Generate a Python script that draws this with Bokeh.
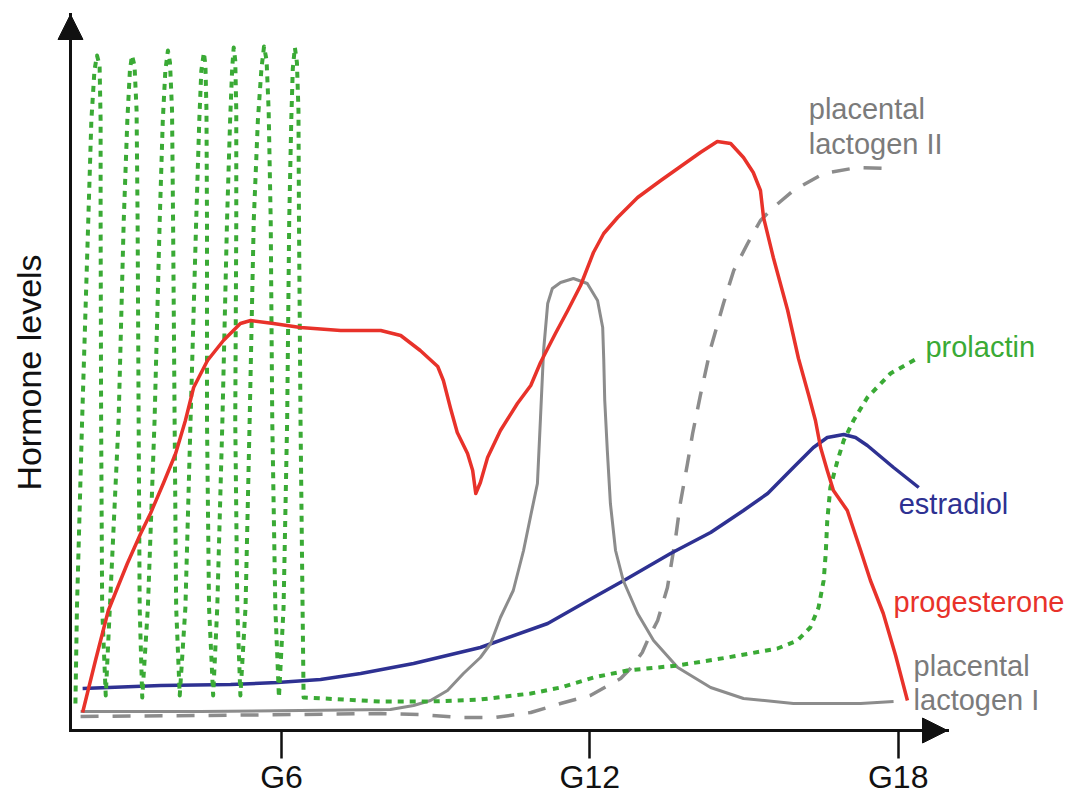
from bokeh.plotting import figure
from bokeh.models import Range1d, FixedTicker, Arrow, NormalHead, Label
from bokeh.embed import file_html
from bokeh.resources import INLINE

# ---------------- data (gestation day, arbitrary hormone level) ----------------
tick_days = [6, 12, 18]
tick_labels = {6: "G6", 12: "G12", 18: "G18"}

progesterone_day = [2.13, 2.38, 2.63, 2.81, 3.00, 3.26, 3.45, 3.70, 3.94, 4.13,
                    4.29, 4.56, 4.87, 5.20, 5.40, 5.84, 6.37, 7.15, 7.93, 8.32,
                    8.70, 9.04, 9.15, 9.29, 9.42, 9.62, 9.72, 9.78, 9.87, 10.01,
                    10.26, 10.59, 10.85, 11.04, 11.33, 11.57, 11.82, 12.07, 12.27, 12.54,
                    12.93, 13.38, 13.71, 14.15, 14.48, 14.74, 14.99, 15.18, 15.32, 15.38,
                    15.57, 15.85, 16.06, 16.26, 16.39, 16.49, 16.62, 16.74, 17.01, 17.27,
                    17.46, 17.71, 17.95, 18.18]
progesterone_level = [3.6, 14.0, 24.0, 28.6, 33.4, 39.4, 43.4, 49.4, 55.4, 62.0,
                      68.6, 74.0, 78.0, 81.4, 82.0, 81.4, 80.6, 80.0, 80.0, 79.0,
                      76.0, 72.8, 70.0, 64.4, 59.6, 55.4, 52.0, 47.4, 49.6, 54.6,
                      60.0, 65.4, 69.0, 73.6, 79.4, 84.0, 89.0, 95.6, 99.4, 102.6,
                      106.6, 110.0, 112.4, 115.6, 117.8, 117.4, 114.6, 111.6, 108.0, 102.6,
                      94.6, 84.0, 74.4, 67.0, 62.0, 56.6, 52.0, 48.0, 44.0, 36.0,
                      30.0, 23.4, 15.0, 6.0]

pl1_day = [2.09, 4.42, 6.37, 8.12, 8.57, 8.90, 9.23, 9.54, 9.87, 10.07,
           10.26, 10.51, 10.71, 10.85, 10.98, 11.04, 11.10, 11.18, 11.27, 11.43,
           11.68, 11.95, 12.15, 12.25, 12.27, 12.29, 12.34, 12.40, 12.50, 12.65,
           12.93, 13.24, 13.71, 14.35, 14.99, 15.96, 17.27, 17.91]
pl1_level = [3.8, 3.8, 4.0, 4.2, 5.0, 6.0, 8.0, 11.4, 14.6, 17.4,
             22.6, 28.0, 36.0, 43.0, 49.4, 62.6, 76.0, 85.4, 88.4, 89.6,
             90.4, 89.4, 86.0, 80.6, 74.4, 66.0, 56.0, 45.4, 36.0, 30.0,
             23.4, 18.0, 12.6, 8.6, 6.4, 5.4, 5.4, 5.8]

pl2_day = [2.09, 4.42, 6.37, 7.93, 8.70, 9.48, 10.16, 10.85, 11.43, 12.01,
           12.60, 12.79, 13.02, 13.14, 13.32, 13.51, 13.67, 13.76, 13.90, 14.00,
           14.15, 14.35, 14.60, 14.80, 15.07, 15.32, 15.57, 15.96, 16.55, 17.21,
           17.85]
pl2_level = [2.8, 3.0, 3.2, 3.4, 3.2, 2.6, 2.6, 3.6, 5.4, 7.0,
             10.4, 12.4, 15.6, 18.4, 22.0, 28.6, 38.6, 45.4, 53.4, 59.4,
             67.0, 76.4, 85.4, 92.0, 97.4, 102.0, 104.6, 108.0, 111.4, 112.6,
             112.4]

estradiol_day = [2.13, 3.65, 5.01, 5.92, 6.76, 7.54, 8.57, 9.87, 11.18, 12.07,
                 12.73, 13.57, 14.35, 14.99, 15.46, 15.96, 16.35, 16.62, 16.94, 17.17,
                 17.40, 17.91, 18.40]
estradiol_level = [8.4, 9.0, 9.2, 9.6, 10.2, 11.4, 13.4, 16.6, 21.4, 26.6,
                   30.4, 35.4, 39.6, 44.0, 47.4, 52.6, 56.6, 58.6, 59.2, 58.6,
                   57.0, 52.6, 48.6]

prolactin_day = [1.99, 2.02, 2.12, 2.24, 2.30, 2.36, 2.41, 2.46, 2.48, 2.48, 2.49, 2.51, 2.58,
                 2.66, 2.83, 2.93, 3.00, 3.05, 3.09, 3.14, 3.18, 3.20, 3.22, 3.24, 3.29,
                 3.40, 3.53, 3.63, 3.69, 3.74, 3.79, 3.83, 3.87, 3.89, 3.92, 3.95, 4.02,
                 4.13, 4.23, 4.34, 4.40, 4.44, 4.49, 4.52, 4.54, 4.55, 4.55, 4.59, 4.67,
                 4.75, 4.85, 4.94, 5.00, 5.04, 5.07, 5.10, 5.12, 5.12, 5.10, 5.14, 5.20,
                 5.30, 5.38, 5.46, 5.54, 5.61, 5.66, 5.71, 5.75, 5.79, 5.82, 5.88, 5.95,
                 6.04, 6.11, 6.15, 6.19, 6.22, 6.26, 6.30, 6.33, 6.34, 6.37, 6.41, 6.43,
                 6.82, 7.93, 8.90, 9.87, 10.85, 11.43, 12.07, 12.73, 13.71, 14.68,
                 15.65, 16.04, 16.29, 16.45, 16.55, 16.59, 16.62, 16.68, 16.82, 16.94,
                 17.13, 17.40, 17.85, 18.40]
prolactin_level = [5.4, 24.6, 62.0, 102.0, 122.0, 132.0, 135.0, 133.0, 122.0, 102.0, 62.0, 24.6, 7.0,
                   24.6, 62.0, 102.0, 122.0, 132.0, 135.0, 133.0, 124.0, 102.0, 62.0, 24.6, 6.6,
                   24.6, 62.0, 102.0, 122.0, 132.0, 136.0, 133.6, 124.0, 102.0, 62.0, 24.6, 7.0,
                   24.6, 62.0, 102.0, 122.0, 132.0, 135.6, 133.0, 124.0, 102.0, 62.0, 24.6, 7.0,
                   24.6, 62.0, 102.0, 122.0, 132.4, 136.6, 134.0, 124.0, 102.0, 62.0, 24.6, 7.0,
                   24.6, 62.0, 102.0, 122.0, 132.4, 136.8, 134.0, 124.0, 102.0, 62.0, 24.6, 6.6,
                   24.6, 62.0, 102.0, 122.0, 132.4, 136.6, 133.6, 124.0, 102.0, 62.0, 24.6, 6.6,
                   6.4, 5.8, 5.8, 6.2, 7.4, 8.6, 10.6, 12.0, 13.0, 14.6,
                   16.4, 18.0, 20.6, 24.6, 30.0, 35.4, 42.0, 48.6, 54.0, 58.0,
                   62.0, 66.6, 71.4, 74.6]

# ---------------- styling ----------------
RED = "#e8322a"
NAVY = "#2e3192"
GREEN = "#3aaa35"
GRAY = "#8c8c8c"
TEXT_GRAY = "#7b7b7b"
INK = "#111111"
FONT = "Liberation Sans"

# axis extents (data units)
AX_X0, AX_X1 = 1.894, 18.96
AX_Y0, AX_Y1 = 0.0, 143.2

p = figure(width=1070, height=797, output_backend="svg", toolbar_location=None,
           x_range=Range1d(0.532, 21.353), y_range=Range1d(-13.4, 146.0),
           min_border=0)
p.grid.visible = False
p.outline_line_color = None
p.background_fill_color = "white"
p.border_fill_color = "white"

# x axis (fixed at level 0, limited extent)
xa = p.xaxis[0]
xa.fixed_location = AX_Y0
xa.bounds = (AX_X0, AX_X1)
xa.ticker = FixedTicker(ticks=tick_days)
xa.major_label_overrides = tick_labels
xa.major_label_text_font = FONT
xa.major_label_text_font_size = "32px"
xa.major_label_text_color = INK
xa.major_label_standoff = 0
xa.major_tick_out = 28
xa.major_tick_in = 0
xa.major_tick_line_width = 2.5
xa.major_tick_line_color = INK
xa.minor_tick_line_color = None
xa.axis_line_width = 3
xa.axis_line_color = INK
xa.axis_line_cap = "square"

# y axis (fixed at left start, no ticks)
ya = p.yaxis[0]
ya.fixed_location = AX_X0
ya.bounds = (AX_Y0, AX_Y1)
ya.ticker = FixedTicker(ticks=[])
ya.minor_tick_line_color = None
ya.major_tick_line_color = None
ya.axis_line_width = 3
ya.axis_line_color = INK
ya.axis_line_cap = "square"
ya.axis_label = "Hormone levels"
ya.axis_label_text_font = FONT
ya.axis_label_text_font_size = "34px"
ya.axis_label_text_font_style = "normal"
ya.axis_label_text_color = INK
ya.axis_label_standoff = 23

# arrow heads on the axes
p.add_layout(Arrow(end=NormalHead(size=25, fill_color=INK, line_color=INK, line_width=1),
                   x_start=AX_X0, y_start=AX_Y0, x_end=AX_X1, y_end=AX_Y0, line_alpha=0))
p.add_layout(Arrow(end=NormalHead(size=25, fill_color=INK, line_color=INK, line_width=1),
                   x_start=AX_X0, y_start=AX_Y0, x_end=AX_X0, y_end=AX_Y1, line_alpha=0))

# curves
p.line(pl2_day, pl2_level, line_color=GRAY, line_width=3.5, line_dash="18 14")
p.line(estradiol_day, estradiol_level, line_color=NAVY, line_width=3.5, line_join="round")
p.line(pl1_day, pl1_level, line_color=GRAY, line_width=3, line_join="round")
p.line(prolactin_day, prolactin_level, line_color=GREEN, line_width=4, line_dash="6 6",
       line_join="round")
p.line(progesterone_day, progesterone_level, line_color=RED, line_width=3.5, line_join="round")

# curve labels
labels = [
    ("placental", 16.26, 124.4, TEXT_GRAY),
    ("lactogen II", 16.26, 117.4, TEXT_GRAY),
    ("prolactin", 18.53, 76.8, GREEN),
    ("estradiol", 18.01, 45.4, NAVY),
    ("progesterone", 17.91, 25.8, RED),
    ("placental", 18.30, 13.0, TEXT_GRAY),
    ("lactogen I", 18.30, 6.2, TEXT_GRAY),
]
for txt, lx, ly, col in labels:
    p.add_layout(Label(x=lx, y=ly, text=txt, text_color=col, text_font=FONT,
                       text_font_size="29px", text_align="left", text_baseline="alphabetic"))

open("out.html", "w").write(file_html(p, INLINE))
